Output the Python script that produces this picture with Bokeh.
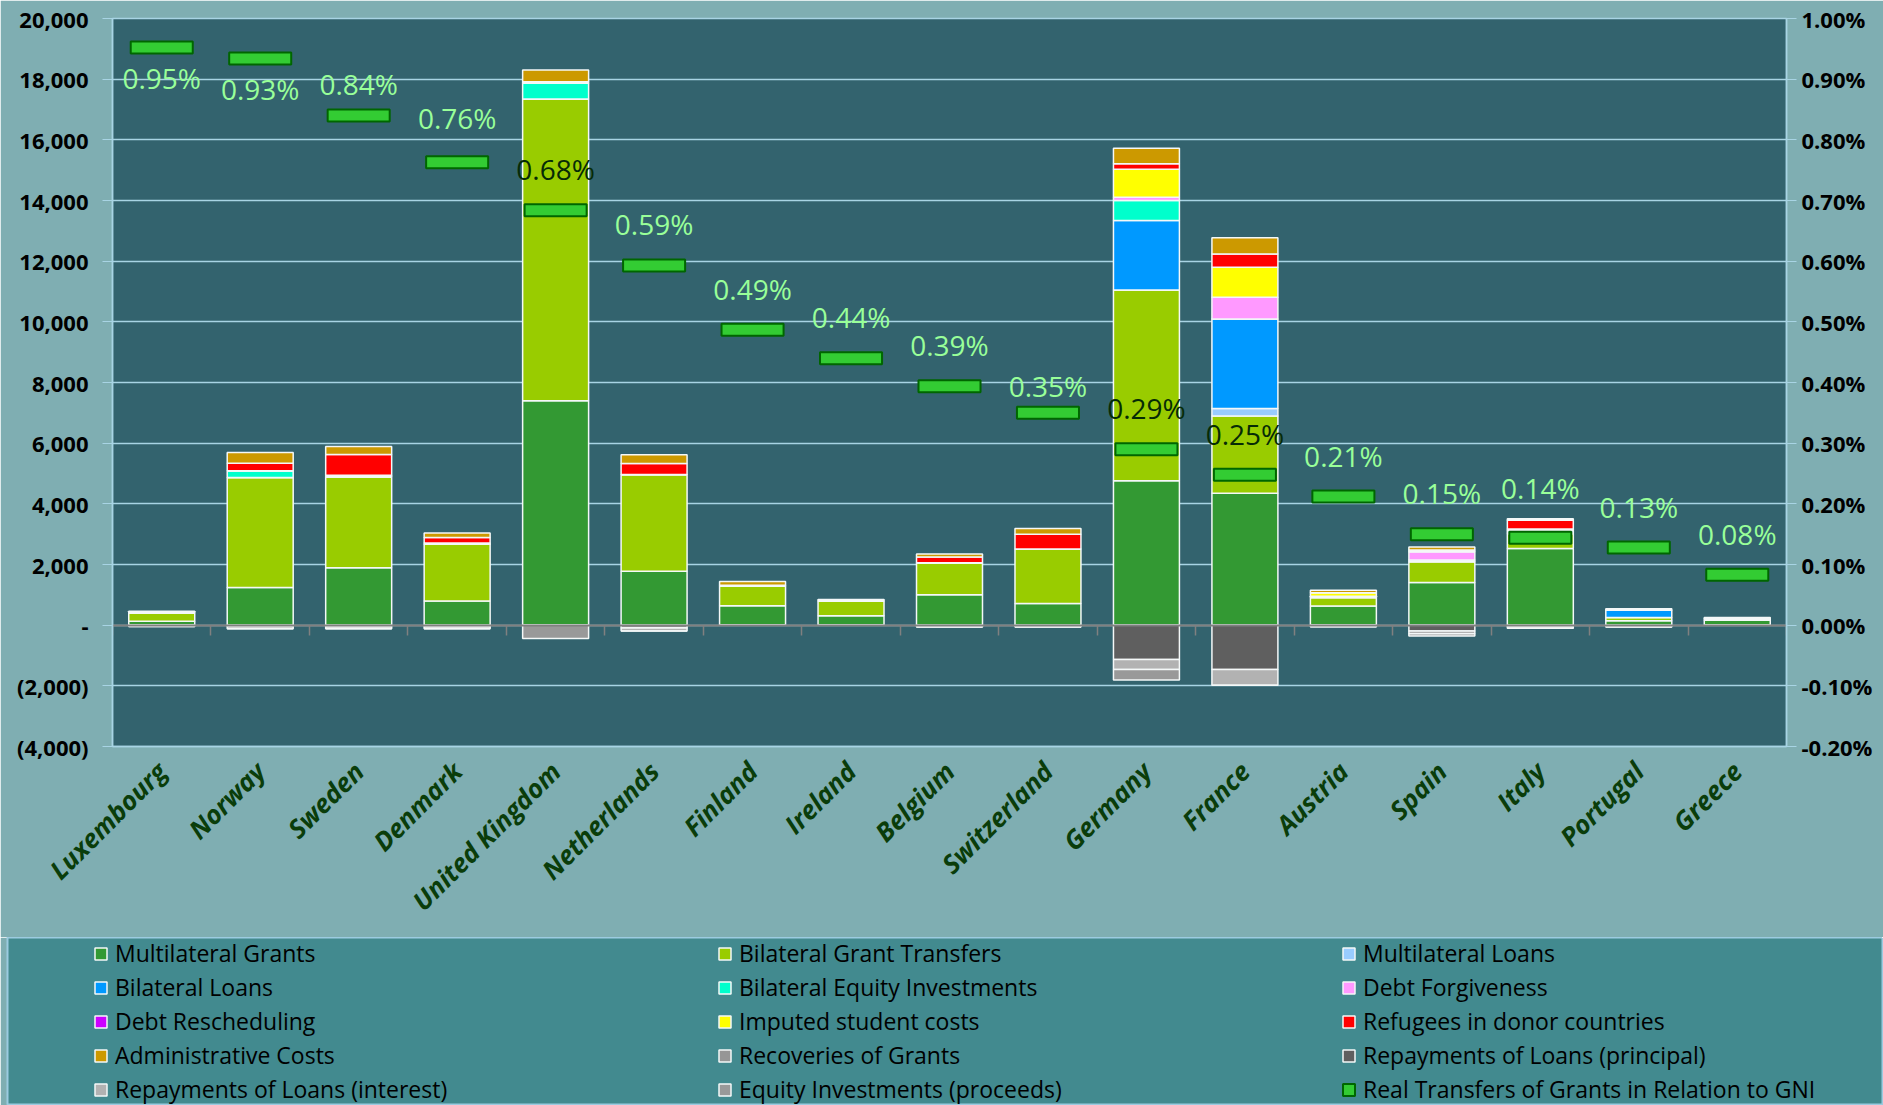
import math
from bokeh.plotting import figure
from bokeh.layouts import column
from bokeh.models import (Range1d, LinearAxis, SingleIntervalTicker, FixedTicker,
                          CustomJSTickFormatter, ColumnDataSource, Legend, LegendItem)
from bokeh.embed import file_html
from bokeh.resources import INLINE
from bokeh.core.properties import value

# ---------------- data ----------------
countries = ["Luxembourg", "Norway", "Sweden", "Denmark", "United Kingdom", "Netherlands",
             "Finland", "Ireland", "Belgium", "Switzerland", "Germany", "France", "Austria",
             "Spain", "Italy", "Portugal", "Greece"]

multilateral_grants       = [130, 1240, 1890, 800, 7400, 1780, 640, 310, 1000, 715, 4760, 4345, 630, 1410, 2530, 145, 165]
bilateral_grant_transfers = [280, 3630, 3000, 1870, 9950, 3190, 650, 490, 1060, 1795, 6290, 2550, 285, 680, 480, 110, 40]
multilateral_loans        = [0, 0, 0, 0, 0, 0, 0, 0, 0, 0, 0, 245, 0, 0, 60, 0, 0]
bilateral_loans           = [0, 0, 0, 0, 0, 0, 0, 0, 0, 0, 2290, 2955, 0, 55, 60, 240, 0]
bilateral_equity          = [0, 220, 0, 0, 516, 0, 0, 0, 0, 0, 660, 0, 0, 0, 0, 0, 0]
debt_forgiveness          = [0, 0, 0, 0, 0, 0, 0, 0, 0, 0, 110, 715, 40, 275, 0, 0, 0]
debt_rescheduling         = [0, 0, 0, 0, 0, 0, 0, 0, 0, 0, 0, 0, 0, 0, 0, 0, 0]
imputed_student_costs     = [0, 0, 50, 40, 0, 0, 0, 0, 0, 0, 920, 990, 110, 60, 40, 0, 20]
refugees_in_donor         = [0, 250, 690, 180, 50, 360, 30, 0, 190, 490, 180, 440, 0, 0, 290, 0, 0]
administrative_costs      = [45, 350, 260, 150, 390, 290, 120, 45, 100, 190, 510, 530, 90, 100, 50, 50, 30]

recoveries_of_grants      = [0, -50, -60, -60, 0, -90, 0, 0, -30, -30, 0, 0, 0, 0, -40, -30, 0]
repayments_principal      = [0, 0, 0, 0, 0, 0, 0, 0, 0, 0, -1130, -1460, 0, -190, 0, 0, 0]
repayments_interest       = [-40, -70, -60, -60, 0, -100, 0, 0, -30, -30, -330, -520, -50, -90, -60, -30, 0]
equity_proceeds           = [0, 0, 0, 0, -440, 0, 0, 0, 0, 0, -350, 0, 0, -80, 0, 0, 0]

# Real transfers of grants in relation to GNI (percent)
gni_ratio = [0.952, 0.934, 0.840, 0.763, 0.684, 0.593, 0.487, 0.440, 0.394, 0.350,
             0.290, 0.248, 0.212, 0.150, 0.144, 0.128, 0.083]

left_ticks_interval = 2000
right_ticks_interval = 0.1

# ---------------- styling ----------------
OUTER = "#7FAEB2"
PLOT_BG = "#33636E"
LEGEND_BG = "#428A8F"
GRID = "#A8D4E4"
FONT = "Open Sans"

pos_series = [
    ("Multilateral Grants", multilateral_grants, "#339933"),
    ("Bilateral Grant Transfers", bilateral_grant_transfers, "#99CC00"),
    ("Multilateral Loans", multilateral_loans, "#99CCFF"),
    ("Bilateral Loans", bilateral_loans, "#0099FF"),
    ("Bilateral Equity Investments", bilateral_equity, "#00FFCC"),
    ("Debt Forgiveness", debt_forgiveness, "#FF99FF"),
    ("Debt Rescheduling", debt_rescheduling, "#CC00FF"),
    ("Imputed student costs", imputed_student_costs, "#FFFF00"),
    ("Refugees in donor countries", refugees_in_donor, "#FF0000"),
    ("Administrative Costs", administrative_costs, "#CC9900"),
]
neg_series = [
    ("Recoveries of Grants", recoveries_of_grants, "#969696"),
    ("Repayments of Loans (principal)", repayments_principal, "#5F5F5F"),
    ("Repayments of Loans (interest)", repayments_interest, "#B2B2B2"),
    ("Equity Investments (proceeds)", equity_proceeds, "#999999"),
]
GNI_NAME = "Real Transfers of Grants in Relation to GNI"
legend_order = [
    "Multilateral Grants", "Bilateral Grant Transfers", "Multilateral Loans",
    "Bilateral Loans", "Bilateral Equity Investments", "Debt Forgiveness",
    "Debt Rescheduling", "Imputed student costs", "Refugees in donor countries",
    "Administrative Costs", "Recoveries of Grants", "Repayments of Loans (principal)",
    "Repayments of Loans (interest)", "Equity Investments (proceeds)", GNI_NAME,
]
# label placement styling (screen px offsets from the marker)
labels_below = {"Luxembourg", "Norway"}
label_offset_override = {"Sweden": -32, "Switzerland": -27, "Italy": -50, "Denmark": -44}
labels_dark = {"United Kingdom", "Germany", "France"}

n = len(countries)
xs = [i + 0.5 for i in range(n)]

data = {"x": xs}
for name, vals, _ in pos_series + neg_series:
    data[name] = vals
data["ratio"] = gni_ratio
data["label"] = [f"{r:.2f}%" for r in gni_ratio]
data["yoff"] = [30 if c in labels_below else label_offset_override.get(c, -41) for c in countries]
data["tcolor"] = ["#062B06" if c in labels_dark else "#99FF99" for c in countries]
src = ColumnDataSource(data)

W = 1883
H_MAIN, H_LEG = 937, 168
FRAME_L, FRAME_R, FRAME_T, FRAME_B = 112, 97, 18, 191

BAR_W = 0.67
BAR_LINE = "#F4F8F8"


def draw_marks(fig):
    pr = fig.vbar_stack([s[0] for s in pos_series], x="x", width=BAR_W, source=src,
                        fill_color=[s[2] for s in pos_series], line_color=BAR_LINE, line_width=1.5)
    nr = fig.vbar_stack([s[0] for s in neg_series], x="x", width=BAR_W, source=src,
                        fill_color=[s[2] for s in neg_series], line_color=BAR_LINE, line_width=1.5)
    gr = fig.rect(x="x", y="ratio", width=0.63, height=12, height_units="screen",
                  fill_color="#33CC33", line_color="#006600", line_width=2,
                  y_range_name="pct", source=src)
    return pr, nr, gr


# ================= main chart =================
p = figure(width=W, height=H_MAIN, x_range=Range1d(0, n), y_range=Range1d(-4000, 20000),
           output_backend="svg", toolbar_location=None,
           min_border_left=FRAME_L, min_border_right=FRAME_R,
           min_border_top=FRAME_T, min_border_bottom=FRAME_B,
           background_fill_color=PLOT_BG, border_fill_color=OUTER,
           outline_line_color=GRID, outline_line_width=1.5)
p.frame_align = False
p.extra_y_ranges = {"pct": Range1d(-0.2, 1.0)}

p.xgrid.visible = False
p.ygrid.grid_line_color = GRID
p.ygrid.grid_line_width = 1.5
p.ygrid.ticker = SingleIntervalTicker(interval=left_ticks_interval, num_minor_ticks=0)

yax = p.yaxis[0]
yax.ticker = SingleIntervalTicker(interval=left_ticks_interval, num_minor_ticks=0)
yax.formatter = CustomJSTickFormatter(code="""
    if (Math.abs(tick) < 1e-9) return "-";
    const s = Math.abs(tick).toLocaleString('en-US');
    return tick < 0 ? "(" + s + ")" : s;
""")
yax.axis_line_color = GRID
yax.axis_line_width = 1.5
yax.major_tick_line_color = GRID
yax.major_tick_out = 10
yax.major_tick_in = 0
yax.minor_tick_line_color = None
yax.major_label_standoff = 14
yax.major_label_text_font = FONT
yax.major_label_text_font_style = "bold"
yax.major_label_text_font_size = "22px"
yax.major_label_text_color = "#000000"

rax = LinearAxis(y_range_name="pct",
                 ticker=SingleIntervalTicker(interval=right_ticks_interval, num_minor_ticks=0),
                 formatter=CustomJSTickFormatter(code="return tick.toFixed(2) + '%';"))
rax.axis_line_color = GRID
rax.axis_line_width = 1.5
rax.major_tick_line_color = GRID
rax.major_tick_out = 10
rax.major_tick_in = 0
rax.minor_tick_line_color = None
rax.major_label_standoff = 5
rax.major_label_text_font = FONT
rax.major_label_text_font_style = "bold"
rax.major_label_text_font_size = "22px"
rax.major_label_text_color = "#000000"
p.add_layout(rax, "right")

xax = p.xaxis[0]
xax.ticker = FixedTicker(ticks=xs)
xax.formatter = CustomJSTickFormatter(args=dict(names=countries),
                                      code="return names[Math.floor(tick)];")
xax.major_label_orientation = math.pi / 4
xax.axis_line_color = GRID
xax.axis_line_width = 1.5
xax.major_tick_line_color = None
xax.minor_tick_line_color = None
xax.major_tick_out = 0
xax.major_tick_in = 0
xax.major_label_standoff = 20
xax.major_label_text_font = FONT
xax.major_label_text_font_style = "bold italic"
xax.major_label_text_font_size = "26px"
xax.major_label_text_color = "#0A3D0A"

pos_r, neg_r, gni_r = draw_marks(p)

# zero line with category separator ticks pointing down
zax = LinearAxis(fixed_location=0, ticker=FixedTicker(ticks=list(range(n + 1))))
zax.axis_line_color = "#808080"
zax.axis_line_width = 2
zax.major_tick_line_color = "#808080"
zax.major_tick_line_width = 1.5
zax.major_tick_out = 0
zax.major_tick_in = 10
zax.minor_tick_line_color = None
zax.major_label_standoff = 0
zax.major_label_text_alpha = 0
zax.major_label_text_font_size = "1px"
p.add_layout(zax, "above")

p.text(x="x", y="ratio", text="label", y_offset="yoff", text_color="tcolor",
       text_align="center", text_baseline="middle", text_font=value(FONT),
       text_font_size="28px", y_range_name="pct", source=src)

# ================= legend panel =================
lf = figure(width=W, height=H_LEG, x_range=Range1d(-100, -99), y_range=Range1d(-1e9, -1e9 + 1),
            output_backend="svg", toolbar_location=None,
            min_border_left=7, min_border_right=0, min_border_top=0, min_border_bottom=0,
            background_fill_color=LEGEND_BG, border_fill_color=OUTER,
            outline_line_color="#9CCBE0", outline_line_width=2)
lf.frame_align = False
lf.axis.visible = False
lf.grid.visible = False
lf.extra_y_ranges = {"pct": Range1d(-1e9, -1e9 + 1)}
lpos, lneg, lgni = draw_marks(lf)

renderer_by_name = {}
for (name, _, _), r in zip(pos_series, lpos):
    renderer_by_name[name] = r
for (name, _, _), r in zip(neg_series, lneg):
    renderer_by_name[name] = r
renderer_by_name[GNI_NAME] = lgni

items = [LegendItem(label=nm, renderers=[renderer_by_name[nm]]) for nm in legend_order]
legend = Legend(items=items, orientation="horizontal", ncols=3,
                location=(86, 0),
                padding=0, margin=0, spacing=2,
                glyph_width=15, glyph_height=15, label_standoff=7,
                label_width=600, label_height=32,
                label_text_font=FONT, label_text_font_size="23px",
                label_text_color="#000000",
                background_fill_alpha=0, border_line_color=None)
lf.add_layout(legend, "center")

layout = column(p, lf, spacing=0)
open("out.html", "w").write(file_html(layout, INLINE))
